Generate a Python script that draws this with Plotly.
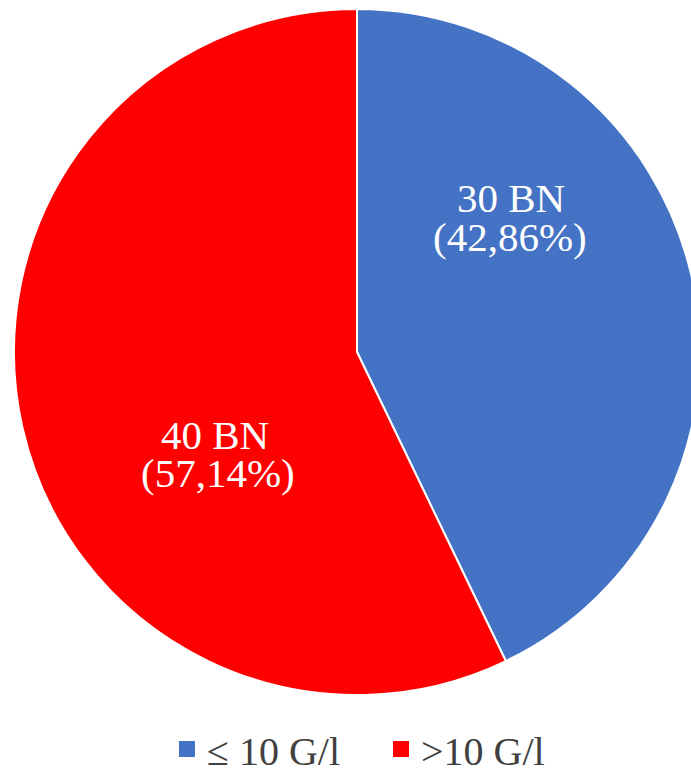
import plotly.graph_objects as go

categories = ["≤ 10 G/l", ">10 G/l"]
counts = [30, 40]
colors = ["#4472C4", "#FF0000"]

total = sum(counts)
pct_text = [f"({c / total * 100:.2f}%)".replace(".", ",") for c in counts]
count_text = [f"{c} BN" for c in counts]

W, H = 700, 774

fig = go.Figure()
fig.add_trace(
    go.Pie(
        labels=categories,
        values=counts,
        marker=dict(colors=colors, line=dict(color="white", width=2)),
        sort=False,
        direction="clockwise",
        rotation=0,
        textinfo="none",
        hoverinfo="label+value+percent",
        showlegend=False,
        domain=dict(x=[14 / W, 1.0], y=[1 - 695 / H, 1 - 9 / H]),
    )
)

# legend entries (square markers, larger than pie's default legend swatch)
for name, col in zip(categories, colors):
    fig.add_trace(
        go.Scatter(
            x=[None], y=[None], mode="markers", name=name,
            marker=dict(symbol="square", size=16, color=col),
            hoverinfo="skip",
        )
    )

# label positions (pixel centres) for the two slices
label_pos = [((511, 198), (510, 237)), ((215, 435), (218, 473))]
ann = []
for i in range(len(counts)):
    (x1, y1), (x2, y2) = label_pos[i]
    for txt, (px, py) in ((count_text[i], (x1, y1)), (pct_text[i], (x2, y2))):
        ann.append(dict(
            x=px / W, y=1 - py / H, xref="paper", yref="paper",
            text=txt, showarrow=False,
            font=dict(family="Liberation Serif", size=41, color="white"),
            xanchor="center", yanchor="middle",
        ))

fig.update_layout(
    width=W, height=H,
    margin=dict(l=0, r=0, t=0, b=0, autoexpand=False),
    paper_bgcolor="white",
    plot_bgcolor="white",
    annotations=ann,
    showlegend=True,
    xaxis=dict(visible=False),
    yaxis=dict(visible=False),
    legend=dict(
        orientation="h", x=167 / W, xanchor="left", y=1 - 749 / H, yanchor="middle",
        font=dict(family="Liberation Serif", size=40, color="#404040"),
        entrywidth=169, entrywidthmode="pixels",
        itemclick=False, itemdoubleclick=False,
        bgcolor="rgba(0,0,0,0)",
    ),
    font=dict(family="Liberation Serif"),
)

fig.write_html(
    "out.html",
    config={"displayModeBar": False},
    post_script="document.body.style.margin='0';document.body.style.overflow='hidden';",
)
